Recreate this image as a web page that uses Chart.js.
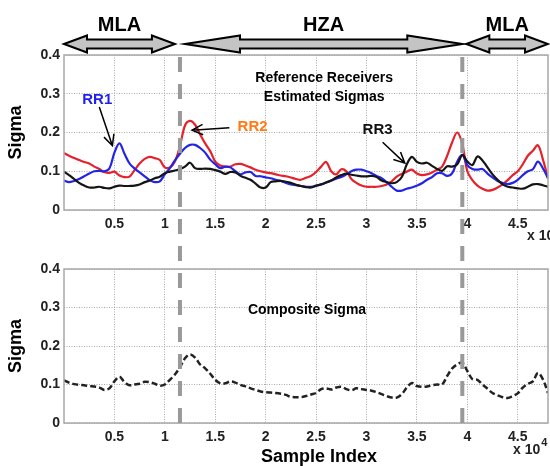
<!DOCTYPE html>
<html>
<head>
<meta charset="utf-8">
<script src="https://cdn.jsdelivr.net/npm/chart.js@4/dist/chart.umd.min.js"></script>
<style>
  html, body { margin: 0; padding: 0; background: #fff; }
  #wrap { position: relative; width: 550px; height: 466px; }
  #topChart { position: absolute; left: 0; top: 0; }
  #bottomChart { position: absolute; left: 0; top: 240px; }
</style>
</head>
<body>
<div id="wrap">
  <canvas id="topChart" width="550" height="240"></canvas>
  <canvas id="bottomChart" width="550" height="226"></canvas>
</div>
<script>
// sample index (x axis), one point every 500 samples
const sampleIndex = [0, 500, 1000, 1500, 2000, 2500, 3000, 3500, 4000, 4500,
  5000, 5500, 6000, 6500, 7000, 7500, 8000, 8500, 9000, 9500,
  10000, 10500, 11000, 11500, 12000, 12500, 13000, 13500, 14000, 14500,
  15000, 15500, 16000, 16500, 17000, 17500, 18000, 18500, 19000, 19500,
  20000, 20500, 21000, 21500, 22000, 22500, 23000, 23500, 24000, 24500,
  25000, 25500, 26000, 26500, 27000, 27500, 28000, 28500, 29000, 29500,
  30000, 30500, 31000, 31500, 32000, 32500, 33000, 33500, 34000, 34500,
  35000, 35500, 36000, 36500, 37000, 37500, 38000, 38500, 39000, 39500,
  40000, 40500, 41000, 41500, 42000, 42500, 43000, 43500, 44000, 44500,
  45000, 45500, 46000, 46500, 47000, 47500, 48000];

// reference receiver sigmas
const rr1 = [0.076, 0.072, 0.075, 0.080, 0.087, 0.094, 0.100, 0.101, 0.100, 0.107,
  0.148, 0.172, 0.145, 0.120, 0.107, 0.097, 0.087, 0.077, 0.072, 0.074,
  0.092, 0.108, 0.128, 0.145, 0.160, 0.168, 0.168, 0.160, 0.148, 0.130,
  0.118, 0.108, 0.112, 0.110, 0.100, 0.092, 0.097, 0.098, 0.088, 0.087,
  0.084, 0.082, 0.078, 0.075, 0.070, 0.066, 0.064, 0.062, 0.060, 0.060,
  0.062, 0.066, 0.071, 0.076, 0.081, 0.085, 0.092, 0.100, 0.104, 0.104,
  0.100, 0.095, 0.088, 0.082, 0.072, 0.060, 0.050, 0.050, 0.055, 0.058,
  0.063, 0.069, 0.078, 0.085, 0.095, 0.095, 0.088, 0.095, 0.125, 0.142,
  0.116, 0.106, 0.104, 0.106, 0.094, 0.084, 0.075, 0.070, 0.067, 0.070,
  0.078, 0.090, 0.100, 0.105, 0.125, 0.107, 0.082];

const rr2 = [0.147, 0.140, 0.134, 0.129, 0.124, 0.120, 0.112, 0.106, 0.098, 0.096,
  0.099, 0.089, 0.085, 0.086, 0.103, 0.120, 0.132, 0.137, 0.134, 0.129,
  0.110, 0.110, 0.125, 0.165, 0.218, 0.230, 0.220, 0.195, 0.172, 0.152,
  0.125, 0.115, 0.112, 0.112, 0.118, 0.119, 0.115, 0.110, 0.104, 0.100,
  0.097, 0.095, 0.092, 0.089, 0.087, 0.084, 0.080, 0.078, 0.083, 0.088,
  0.098, 0.112, 0.124, 0.100, 0.092, 0.105, 0.100, 0.080, 0.070, 0.063,
  0.060, 0.060, 0.060, 0.062, 0.066, 0.074, 0.086, 0.093, 0.099, 0.104,
  0.094, 0.090, 0.092, 0.097, 0.104, 0.112, 0.140, 0.175, 0.200, 0.170,
  0.100, 0.077, 0.063, 0.055, 0.050, 0.052, 0.058, 0.066, 0.077, 0.090,
  0.100, 0.118, 0.140, 0.153, 0.167, 0.130, 0.082];

const rr3 = [0.099, 0.090, 0.080, 0.070, 0.063, 0.058, 0.058, 0.060, 0.057, 0.056,
  0.060, 0.063, 0.062, 0.062, 0.063, 0.066, 0.072, 0.076, 0.082, 0.086,
  0.095, 0.099, 0.102, 0.106, 0.112, 0.122, 0.108, 0.106, 0.107, 0.106,
  0.103, 0.099, 0.093, 0.098, 0.097, 0.088, 0.083, 0.078, 0.068, 0.058,
  0.058, 0.072, 0.074, 0.075, 0.073, 0.070, 0.065, 0.062, 0.059, 0.058,
  0.063, 0.066, 0.071, 0.076, 0.084, 0.090, 0.094, 0.091, 0.089, 0.087,
  0.087, 0.088, 0.085, 0.076, 0.072, 0.069, 0.072, 0.085, 0.118, 0.137,
  0.124, 0.120, 0.122, 0.114, 0.106, 0.101, 0.113, 0.112, 0.118, 0.142,
  0.125, 0.116, 0.138, 0.128, 0.110, 0.092, 0.078, 0.066, 0.060, 0.058,
  0.056, 0.055, 0.060, 0.066, 0.067, 0.064, 0.060];

// composite sigma
const composite = [0.111, 0.105, 0.101, 0.099, 0.098, 0.096, 0.095, 0.092, 0.086, 0.090,
  0.108, 0.120, 0.106, 0.098, 0.100, 0.102, 0.107, 0.106, 0.102, 0.097,
  0.100, 0.112, 0.126, 0.145, 0.168, 0.178, 0.170, 0.152, 0.142, 0.128,
  0.112, 0.103, 0.103, 0.108, 0.105, 0.099, 0.095, 0.090, 0.086, 0.082,
  0.080, 0.079, 0.078, 0.076, 0.073, 0.068, 0.067, 0.067, 0.070, 0.074,
  0.078, 0.088, 0.090, 0.087, 0.092, 0.094, 0.088, 0.085, 0.090, 0.088,
  0.086, 0.084, 0.080, 0.075, 0.070, 0.066, 0.066, 0.075, 0.092, 0.104,
  0.096, 0.094, 0.095, 0.098, 0.100, 0.100, 0.122, 0.142, 0.152, 0.157,
  0.135, 0.114, 0.112, 0.100, 0.089, 0.078, 0.072, 0.067, 0.065, 0.070,
  0.077, 0.092, 0.102, 0.108, 0.130, 0.113, 0.078];

// tick values
const xTicks = [5000, 10000, 15000, 20000, 25000, 30000, 35000, 40000, 45000];
const yTicks = [0, 0.1, 0.2, 0.3, 0.4];

// zones along the sample axis
const zoneLabels = ['MLA', 'HZA', 'MLA'];
const zoneStart = [0, 12000, 39900];
const zoneEnd = [11000, 39500, 48000];
const zoneBoundaries = [11500, 39500];

const FONT = "'Liberation Sans', Arial, sans-serif";
Chart.defaults.font.family = FONT;

const pts = arr => arr.map((v, i) => ({ x: sampleIndex[i], y: v }));

// text notes, placed in data coordinates
const rrNotes = [
  { text: 'RR1', color: '#1f1ff0', at: [3300, 0.284], from: [3500, 0.266], to: [4800, 0.166] },
  { text: 'RR2', color: '#ff7a14', at: [18700, 0.214], from: [16400, 0.212], to: [12700, 0.206] },
  { text: 'RR3', color: '#111111', at: [31100, 0.206], from: [31600, 0.175], to: [33800, 0.121] }
];

function drawFrame(chart) {
  const { ctx, chartArea: a } = chart;
  ctx.save();
  ctx.strokeStyle = '#a8a8a8';
  ctx.lineWidth = 1.5;
  ctx.strokeRect(a.left, a.top, a.right - a.left, a.bottom - a.top);
  ctx.restore();
}

function drawBoundaries(chart, yFrom, yTo) {
  const { ctx, scales: { x } } = chart;
  ctx.save();
  ctx.strokeStyle = '#999999';
  ctx.lineWidth = 4;
  ctx.setLineDash([15, 12]);
  zoneBoundaries.forEach(b => {
    const px = x.getPixelForValue(b);
    ctx.beginPath();
    ctx.moveTo(px, yFrom);
    ctx.lineTo(px, yTo);
    ctx.stroke();
  });
  ctx.restore();
}

function drawTimes10(ctx, left, baseY) {
  ctx.save();
  ctx.fillStyle = '#222';
  ctx.textAlign = 'left';
  ctx.textBaseline = 'alphabetic';
  ctx.font = 'bold 14px ' + FONT;
  ctx.fillText('x 10', left, baseY);
  const w = ctx.measureText('x 10').width;
  ctx.font = 'bold 11px ' + FONT;
  ctx.fillText('4', left + w + 1, baseY - 8);
  ctx.restore();
}

function pointer(ctx, x1, y1, x2, y2) {
  const ang = Math.atan2(y2 - y1, x2 - x1);
  const len = 12, spread = 0.45;
  ctx.beginPath();
  ctx.moveTo(x1, y1);
  ctx.lineTo(x2, y2);
  ctx.moveTo(x2 - len * Math.cos(ang - spread), y2 - len * Math.sin(ang - spread));
  ctx.lineTo(x2, y2);
  ctx.lineTo(x2 - len * Math.cos(ang + spread), y2 - len * Math.sin(ang + spread));
  ctx.stroke();
}

function doubleArrow(ctx, x1, x2, yc, headLen) {
  const sh = 4.5, hh = 8.5;
  ctx.beginPath();
  ctx.moveTo(x1, yc);
  ctx.lineTo(x1 + headLen, yc - hh);
  ctx.lineTo(x1 + headLen, yc - sh);
  ctx.lineTo(x2 - headLen, yc - sh);
  ctx.lineTo(x2 - headLen, yc - hh);
  ctx.lineTo(x2, yc);
  ctx.lineTo(x2 - headLen, yc + hh);
  ctx.lineTo(x2 - headLen, yc + sh);
  ctx.lineTo(x1 + headLen, yc + sh);
  ctx.lineTo(x1 + headLen, yc + hh);
  ctx.closePath();
  ctx.fillStyle = '#c4c4c4';
  ctx.fill();
  ctx.strokeStyle = '#000';
  ctx.lineWidth = 2;
  ctx.lineJoin = 'miter';
  ctx.stroke();
}

const topOverlay = {
  id: 'topOverlay',
  afterDraw(chart) {
    const { ctx, scales: { x, y } } = chart;
    drawFrame(chart);
    drawBoundaries(chart, 57, chart.height);

    // zone arrows and their labels
    zoneLabels.forEach((lab, i) => {
      const x1 = x.getPixelForValue(zoneStart[i]);
      const x2 = x.getPixelForValue(zoneEnd[i]);
      doubleArrow(ctx, x1, x2, 44, lab === 'HZA' ? 55 : 23);
      ctx.save();
      ctx.fillStyle = '#000';
      ctx.font = 'bold 20px ' + FONT;
      ctx.textAlign = 'center';
      ctx.textBaseline = 'middle';
      ctx.fillText(lab, (x1 + x2) / 2, 25);
      ctx.restore();
    });

    ctx.save();
    ctx.fillStyle = '#000';
    ctx.font = 'bold 14px ' + FONT;
    ctx.textAlign = 'center';
    ctx.textBaseline = 'middle';
    ctx.fillText('Reference Receivers', x.getPixelForValue(25800), y.getPixelForValue(0.340));
    ctx.fillText('Estimated Sigmas', x.getPixelForValue(25800), y.getPixelForValue(0.291));

    ctx.font = 'bold 15px ' + FONT;
    rrNotes.forEach(n => {
      ctx.fillStyle = n.color;
      ctx.fillText(n.text, x.getPixelForValue(n.at[0]), y.getPixelForValue(n.at[1]));
      ctx.strokeStyle = '#000';
      ctx.lineWidth = 1.5;
      pointer(ctx, x.getPixelForValue(n.from[0]), y.getPixelForValue(n.from[1]),
        x.getPixelForValue(n.to[0]), y.getPixelForValue(n.to[1]));
    });
    ctx.restore();

    drawTimes10(ctx, 527, 240);
  }
};

const bottomOverlay = {
  id: 'bottomOverlay',
  afterDraw(chart) {
    const { ctx, chartArea: a, scales: { x, y } } = chart;
    drawFrame(chart);
    drawBoundaries(chart, a.bottom, 0);

    ctx.save();
    ctx.fillStyle = '#000';
    ctx.font = 'bold 14px ' + FONT;
    ctx.textAlign = 'center';
    ctx.textBaseline = 'middle';
    ctx.fillText('Composite Sigma', x.getPixelForValue(24100), y.getPixelForValue(0.294));
    ctx.font = 'bold 18px ' + FONT;
    ctx.fillText('Sample Index', 319, 217);
    ctx.restore();

    drawTimes10(ctx, 513, 214);
  }
};

function axes(xHeight) {
  const tickFont = { size: 14, weight: 'bold', family: FONT };
  const gridStyle = { color: '#a9a9a9', lineWidth: 1, drawTicks: false };
  return {
    x: {
      type: 'linear', min: 0, max: 48000,
      afterBuildTicks: s => { s.ticks = xTicks.map(v => ({ value: v })); },
      afterFit: s => { s.height = xHeight; },
      ticks: { callback: v => v / 10000, font: tickFont, color: '#222', padding: 6, maxRotation: 0, autoSkip: false },
      grid: gridStyle,
      border: { display: false, dash: [1, 1.5] }
    },
    y: {
      min: 0, max: 0.4,
      afterBuildTicks: s => { s.ticks = yTicks.map(v => ({ value: v })); },
      afterFit: s => { s.width = 64; },
      ticks: { callback: v => String(v), font: tickFont, color: '#222', padding: 4 },
      grid: gridStyle,
      border: { display: false, dash: [1, 1.5] },
      title: { display: true, text: 'Sigma', color: '#000', font: { size: 18, weight: 'bold', lineHeight: 1 }, padding: { top: 7, bottom: 0 } }
    }
  };
}

const common = {
  responsive: false,
  animation: false,
  plugins: { legend: { display: false }, tooltip: { enabled: false } },
  elements: { point: { radius: 0 }, line: { borderWidth: 2.2, tension: 0.35 } }
};

new Chart(document.getElementById('topChart'), {
  type: 'line',
  data: {
    datasets: [
      { label: 'RR3', data: pts(rr3), borderColor: '#151515' },
      { label: 'RR1', data: pts(rr1), borderColor: '#2424e6' },
      { label: 'RR2', data: pts(rr2), borderColor: '#e5212b' }
    ]
  },
  options: Object.assign({}, common, {
    layout: { padding: { top: 55, right: 2, left: 0, bottom: 0 } },
    scales: axes(30)
  }),
  plugins: [topOverlay]
});

new Chart(document.getElementById('bottomChart'), {
  type: 'line',
  data: {
    datasets: [
      { label: 'Composite Sigma', data: pts(composite), borderColor: '#222', borderWidth: 2.5, borderDash: [6, 3] }
    ]
  },
  options: Object.assign({}, common, {
    layout: { padding: { top: 29, right: 2, left: 0, bottom: 0 } },
    scales: axes(43)
  }),
  plugins: [bottomOverlay]
});
</script>
</body>
</html>
